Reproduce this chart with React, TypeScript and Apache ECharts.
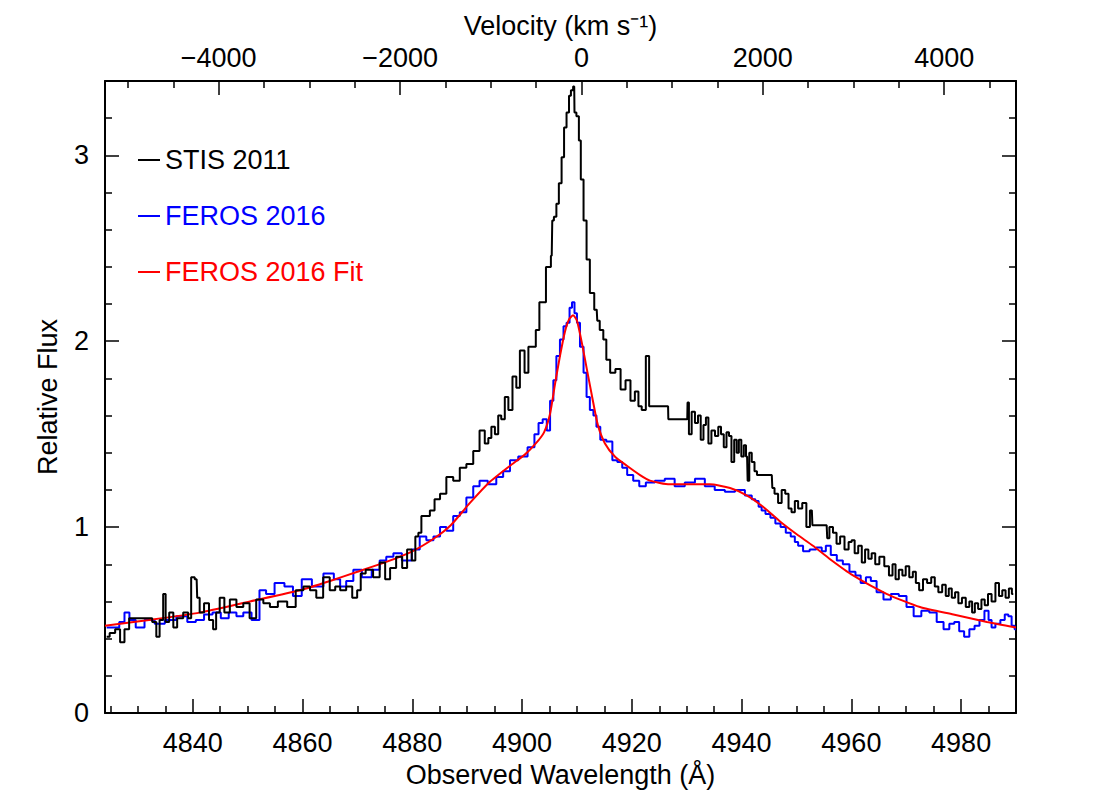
import React, { useEffect, useRef } from "react";
import * as echarts from "echarts";

// ---- axis ranges / ticks ----
const WAVE_MIN = 4824;
const WAVE_MAX = 4990;
const VEL_MIN = -5254;
const VEL_MAX = 4792;
const FLUX_MIN = 0;
const FLUX_MAX = 3.4;

const waveTicks = [4840, 4860, 4880, 4900, 4920, 4940, 4960, 4980];
const waveMinorTicks = [
  4825, 4830, 4835, 4845, 4850, 4855, 4865, 4870, 4875, 4885, 4890, 4895, 4905, 4910, 4915,
  4925, 4930, 4935, 4945, 4950, 4955, 4965, 4970, 4975, 4985,
];
const velTicks = [-4000, -2000, 0, 2000, 4000];
const velMinorTicks = [
  -5000, -4500, -3500, -3000, -2500, -1500, -1000, -500, 500, 1000, 1500, 2500, 3000, 3500, 4500,
];
const fluxTicks = [0, 1, 2, 3];
const fluxMinorTicks = [0.2, 0.4, 0.6, 0.8, 1.2, 1.4, 1.6, 1.8, 2.2, 2.4, 2.6, 2.8, 3.2];

// ---- STIS 2011 ----
const stisWave = [
  4824.3, 4825.4, 4826.3, 4827.2, 4827.9, 4828.9, 4832.1, 4833.1, 4833.6, 4834.3,
  4834.9, 4835.2, 4836.2, 4836.7, 4837.6, 4838.9, 4839.4, 4840.0, 4840.7, 4840.9,
  4841.6, 4842.5, 4843.4, 4844.0, 4844.5, 4845.3, 4846.2, 4847.3, 4848.6, 4849.8,
  4850.9, 4852.2, 4853.5, 4854.6, 4856.4, 4858.0, 4859.5, 4860.8, 4861.9, 4863.1,
  4864.4, 4865.5, 4866.4, 4867.3, 4868.6, 4869.5, 4870.4, 4870.8, 4872.2, 4873.5,
  4874.6, 4875.5, 4876.4, 4877.7, 4878.6, 4879.5, 4880.3, 4880.8, 4881.4, 4881.9,
  4882.8, 4883.6, 4884.5, 4885.6, 4886.8, 4888.1, 4889.2, 4890.5, 4891.7, 4892.8,
  4893.6, 4894.1, 4894.7, 4895.4, 4895.9, 4896.5, 4897.2, 4897.8, 4898.7, 4899.2,
  4900.0, 4900.9, 4901.4, 4902.3, 4902.7, 4903.6, 4905.1, 4905.4, 4905.6, 4906.0,
  4906.5, 4906.9, 4907.5, 4907.8, 4908.4, 4908.7, 4909.1, 4909.5, 4909.6, 4910.2,
  4910.5, 4910.9, 4911.5, 4912.0, 4912.7, 4913.6, 4913.8, 4914.5, 4915.1, 4915.6,
  4916.5, 4917.5, 4918.4, 4919.3, 4920.2, 4920.9, 4921.5, 4922.1, 4923.0, 4923.3,
  4926.6, 4926.7, 4930.1,
  4930.2, 4930.6, 4931.2, 4931.8, 4932.3, 4932.8, 4933.3, 4933.7, 4934.2, 4934.8,
  4935.5, 4936.0, 4936.5, 4937.0, 4937.5, 4937.9, 4938.4, 4938.9, 4939.3, 4939.7,
  4940.2, 4940.6, 4941.0, 4941.2, 4941.6, 4942.1, 4942.6, 4943.0, 4945.5, 4945.7,
  4946.3, 4947.0, 4947.6, 4948.3, 4948.8, 4949.4, 4950.0, 4950.6, 4951.5, 4952.1,
  4952.8, 4953.0, 4955.5, 4955.7, 4956.3, 4957.0, 4957.6, 4958.3, 4959.2, 4959.8,
  4960.3, 4960.9, 4961.6, 4962.2, 4962.8, 4963.4, 4964.0, 4964.7, 4965.5, 4966.5,
  4967.2, 4967.8, 4968.3, 4969.0, 4969.6, 4970.2, 4970.9, 4971.5, 4972.0, 4972.7,
  4973.4, 4974.2, 4974.9, 4975.5, 4976.2, 4976.9, 4977.5, 4978.0, 4978.6, 4979.2,
  4979.8, 4980.5, 4981.2, 4981.8, 4982.2, 4982.8, 4983.4, 4984.0, 4984.6, 4985.2,
  4985.9, 4986.6, 4987.2, 4987.8, 4988.4, 4989.0, 4989.5,
];
const stisFlux = [
  0.41, 0.43, 0.45, 0.38, 0.45, 0.51, 0.51, 0.49, 0.41, 0.5,
  0.64, 0.49, 0.54, 0.46, 0.51, 0.54, 0.51, 0.73, 0.72, 0.62,
  0.54, 0.59, 0.5, 0.45, 0.54, 0.62, 0.54, 0.61, 0.57, 0.59,
  0.51, 0.61, 0.59, 0.57, 0.6, 0.57, 0.66, 0.68, 0.66, 0.62,
  0.73, 0.66, 0.68, 0.66, 0.68, 0.62, 0.66, 0.75, 0.77, 0.73,
  0.81, 0.72, 0.78, 0.84, 0.78, 0.88, 0.82, 0.95, 0.97, 1.06,
  1.06, 1.09, 1.15, 1.18, 1.27, 1.25, 1.32, 1.34, 1.41, 1.52,
  1.45, 1.48, 1.54, 1.5, 1.6, 1.58, 1.7, 1.63, 1.81, 1.75,
  1.95, 1.83, 1.97, 1.97, 2.06, 2.21, 2.4, 2.46, 2.65, 2.67,
  2.74, 2.85, 2.99, 3.15, 3.23, 3.32, 3.35, 3.37, 3.23, 3.21,
  3.08, 2.87, 2.65, 2.44, 2.26, 2.17, 2.11, 2.06, 2.01, 1.9,
  1.83, 1.85, 1.74, 1.79, 1.68, 1.73, 1.65, 1.63, 1.92, 1.65,
  1.65, 1.58, 1.58,
  1.67, 1.5, 1.62, 1.56, 1.6, 1.47, 1.55, 1.59, 1.45, 1.52,
  1.49, 1.54, 1.5, 1.43, 1.51, 1.49, 1.35, 1.47, 1.4, 1.47,
  1.38, 1.44, 1.38, 1.25, 1.4, 1.35, 1.3, 1.28, 1.28, 1.21,
  1.18, 1.13, 1.2, 1.18, 1.1, 1.08, 1.14, 1.1, 1.13, 1.0,
  1.09, 1.01, 1.01, 0.94, 1.0, 0.97, 0.91, 0.95, 0.88, 0.92,
  0.93, 0.86, 0.9, 0.81, 0.88, 0.83, 0.86, 0.8, 0.84, 0.79,
  0.74, 0.8, 0.72, 0.77, 0.74, 0.79, 0.73, 0.76, 0.7, 0.66,
  0.72, 0.7, 0.73, 0.68, 0.65, 0.69, 0.63, 0.67, 0.62, 0.65,
  0.59, 0.62, 0.57, 0.6, 0.54, 0.59, 0.56, 0.61, 0.58, 0.64,
  0.6, 0.7, 0.63, 0.66, 0.62, 0.67, 0.64,
];

// ---- FEROS 2016 ----
const ferosWave = [
  4824.3, 4826.1, 4827.1, 4828.0, 4828.9, 4830.3, 4832.1, 4834.0, 4835.8, 4838.2,
  4839.8, 4841.3, 4842.8, 4844.4, 4845.8, 4847.3, 4848.6, 4849.8, 4851.6, 4852.7,
  4854.0, 4855.8, 4857.6, 4858.9, 4860.8, 4862.6, 4865.0, 4866.4, 4867.3, 4868.6,
  4869.9, 4871.7, 4873.5, 4874.6, 4875.9, 4877.2, 4879.0, 4880.8, 4881.9, 4883.2,
  4884.5, 4885.6, 4886.8, 4888.1, 4889.2, 4890.5, 4891.7, 4892.8, 4894.7, 4895.9,
  4897.2, 4898.4, 4900.2, 4901.8, 4902.7, 4903.3, 4904.2, 4904.8, 4905.4, 4906.0,
  4906.5, 4907.3, 4907.8, 4908.4, 4908.9, 4909.3, 4909.8, 4910.2, 4910.9, 4911.5,
  4912.0, 4912.7, 4913.3, 4913.8, 4914.7, 4916.0, 4916.9, 4917.8, 4918.7, 4919.6,
  4920.9, 4921.8, 4923.3, 4925.1, 4926.9, 4928.7, 4930.6, 4932.4, 4934.2, 4936.0,
  4937.9, 4939.7,
  4941.5, 4942.2, 4942.8, 4943.4, 4943.9, 4944.8, 4945.7, 4946.6, 4947.6, 4948.5,
  4949.4, 4950.0, 4950.6, 4951.8, 4953.0, 4954.2, 4955.0, 4955.7, 4956.8, 4957.9,
  4959.0, 4960.3, 4961.2, 4962.2, 4963.1, 4964.0, 4965.2, 4966.5, 4967.9, 4969.4,
  4970.7, 4972.0, 4973.5, 4974.9, 4976.2, 4977.4, 4978.3, 4979.2, 4980.1, 4981.0,
  4982.0, 4982.9, 4983.8, 4984.7, 4985.3, 4985.8, 4986.7, 4987.6, 4988.3, 4988.9,
  4989.5, 4990.0,
];
const ferosFlux = [
  0.46, 0.46, 0.49, 0.54, 0.5, 0.46, 0.5, 0.48, 0.5, 0.52,
  0.49, 0.5, 0.53, 0.54, 0.51, 0.54, 0.52, 0.54, 0.5, 0.66,
  0.64, 0.7, 0.68, 0.63, 0.72, 0.68, 0.75, 0.72, 0.68, 0.71,
  0.77, 0.73, 0.77, 0.82, 0.84, 0.86, 0.82, 0.88, 0.95, 0.93,
  0.95, 1.0, 0.98, 1.06, 1.08, 1.16, 1.22, 1.25, 1.23, 1.27,
  1.3, 1.36, 1.38, 1.43, 1.5, 1.56, 1.58, 1.52, 1.68, 1.79,
  1.92, 2.01, 2.08, 2.1, 2.18, 2.21, 2.15, 2.1, 1.97, 1.83,
  1.7, 1.63, 1.6, 1.54, 1.47, 1.46, 1.36, 1.35, 1.32, 1.28,
  1.25, 1.22, 1.24, 1.25, 1.26, 1.22, 1.24, 1.26, 1.22, 1.2,
  1.19, 1.2,
  1.17, 1.15, 1.14, 1.11, 1.09, 1.07, 1.05, 1.02, 1.0, 0.97,
  0.95, 0.92, 0.9, 0.87, 0.88, 0.89, 0.87, 0.9, 0.85, 0.82,
  0.8, 0.76, 0.74, 0.7, 0.73, 0.71, 0.65, 0.61, 0.64, 0.63,
  0.57, 0.52, 0.55, 0.54, 0.49, 0.45, 0.48, 0.49, 0.44, 0.41,
  0.45, 0.47, 0.5, 0.55, 0.5, 0.46, 0.48, 0.5, 0.53, 0.52,
  0.47, 0.45,
];

// ---- FEROS 2016 Fit ----
const fitWave = [
  4824, 4832, 4841.3, 4850.4, 4859.5, 4865, 4870, 4875, 4880, 4884,
  4887, 4890.5, 4894, 4897.8, 4900.5, 4902.5, 4904, 4905.1, 4906, 4906.9,
  4907.8, 4908.6, 4909.3, 4910, 4910.9, 4911.8, 4912.9, 4913.8, 4915.1, 4916.9,
  4919.1, 4921.5, 4923.3, 4926.9, 4930.6, 4934.2, 4937.9, 4941, 4943.9, 4947,
  4950.1, 4953, 4956, 4960.3, 4966.5, 4972.5, 4978.6, 4984.7, 4990,
];
const fitFlux = [
  0.47, 0.5, 0.54, 0.6, 0.66, 0.71, 0.76, 0.81, 0.87, 0.94,
  1.01, 1.13, 1.24, 1.33, 1.39, 1.45, 1.51, 1.61, 1.77, 1.92,
  2.05, 2.12, 2.14, 2.11, 1.99, 1.85, 1.68, 1.55, 1.45, 1.38,
  1.33, 1.28, 1.25, 1.23, 1.23, 1.23, 1.21, 1.17, 1.11, 1.03,
  0.96, 0.9, 0.83, 0.74, 0.64, 0.57, 0.53, 0.49, 0.46,
];

const seriesNames = ["STIS 2011", "FEROS 2016", "FEROS 2016 Fit"];
const seriesColors = ["#000000", "#0000ff", "#ff0000"];

const FONT = "Liberation Sans";
const zip = (xs: number[], ys: number[]) => xs.map((x, i) => [x, ys[i]]);
const fmtVel = (v: number) => (v < 0 ? "\u2212" + Math.abs(v) : String(v));
const fmtPlain = (v: number) => String(v);

export default function App() {
  const ref = useRef<HTMLDivElement>(null);
  useEffect(() => {
    if (!ref.current) return;
    const chart = echarts.init(ref.current, null, { renderer: "svg" });
    const frame = { show: true, onZero: false, lineStyle: { color: "#000", width: 2 } };
    const noLine = { show: false, onZero: false };
    const major = (vals: number[]) => ({
      show: true,
      inside: true,
      length: 14,
      customValues: vals,
      lineStyle: { color: "#000", width: 1.5 },
    });
    const minor = (vals: number[]) => ({
      show: true,
      inside: true,
      length: 7,
      customValues: vals,
      lineStyle: { color: "#000", width: 1.5 },
    });
    const labelStyle = { fontFamily: FONT, fontSize: 27, color: "#000" };
    const nameStyle = { fontFamily: FONT, fontSize: 27, color: "#000" };
    const noSplit = { show: false };

    chart.setOption({
      animation: false,
      backgroundColor: "#ffffff",
      grid: { left: 105, right: 84, top: 81, bottom: 86, containLabel: false },
      legend: {
        orient: "vertical",
        left: 133,
        top: 141,
        itemWidth: 22,
        itemHeight: 2,
        itemGap: 28,
        icon: "rect",
        selectedMode: false,
        textStyle: { fontFamily: FONT, fontSize: 27, lineHeight: 28 },
        data: seriesNames.map((n, i) => ({ name: n, textStyle: { color: seriesColors[i] } })),
      },
      xAxis: [
        {
          type: "value",
          position: "bottom",
          min: WAVE_MIN,
          max: WAVE_MAX,
          axisLine: frame,
          axisTick: major(waveTicks),
          axisLabel: { ...labelStyle, customValues: waveTicks, margin: 16, formatter: fmtPlain },
          splitLine: noSplit,
          name: "Observed Wavelength (Å)",
          nameLocation: "middle",
          nameGap: 48,
          nameTextStyle: nameStyle,
        },
        {
          type: "value",
          position: "bottom",
          min: WAVE_MIN,
          max: WAVE_MAX,
          axisLine: noLine,
          axisTick: minor(waveMinorTicks),
          axisLabel: { show: false },
          splitLine: noSplit,
        },
        {
          type: "value",
          position: "top",
          min: VEL_MIN,
          max: VEL_MAX,
          axisLine: frame,
          axisTick: major(velTicks),
          axisLabel: { ...labelStyle, customValues: velTicks, margin: 10, formatter: fmtVel },
          splitLine: noSplit,
          name: "Velocity (km s\u207B\u00B9)",
          nameLocation: "middle",
          nameGap: 39,
          nameTextStyle: nameStyle,
        },
        {
          type: "value",
          position: "top",
          min: VEL_MIN,
          max: VEL_MAX,
          axisLine: noLine,
          axisTick: minor(velMinorTicks),
          axisLabel: { show: false },
          splitLine: noSplit,
        },
      ],
      yAxis: [
        {
          type: "value",
          position: "left",
          min: FLUX_MIN,
          max: FLUX_MAX,
          axisLine: frame,
          axisTick: major(fluxTicks),
          axisLabel: { ...labelStyle, customValues: fluxTicks, margin: 16 },
          splitLine: noSplit,
          name: "Relative Flux",
          nameLocation: "middle",
          nameGap: 44,
          nameTextStyle: nameStyle,
        },
        {
          type: "value",
          position: "left",
          min: FLUX_MIN,
          max: FLUX_MAX,
          axisLine: noLine,
          axisTick: minor(fluxMinorTicks),
          axisLabel: { show: false },
          splitLine: noSplit,
        },
        {
          type: "value",
          position: "right",
          min: FLUX_MIN,
          max: FLUX_MAX,
          axisLine: frame,
          axisTick: major(fluxTicks),
          axisLabel: { show: false },
          splitLine: noSplit,
        },
        {
          type: "value",
          position: "right",
          min: FLUX_MIN,
          max: FLUX_MAX,
          axisLine: noLine,
          axisTick: minor(fluxMinorTicks),
          axisLabel: { show: false },
          splitLine: noSplit,
        },
      ],
      series: [
        {
          name: seriesNames[1],
          type: "line",
          step: "middle",
          xAxisIndex: 0,
          yAxisIndex: 0,
          showSymbol: false,
          symbol: "none",
          color: seriesColors[1],
          lineStyle: { color: seriesColors[1], width: 2 },
          data: zip(ferosWave, ferosFlux),
          z: 2,
        },
        {
          name: seriesNames[2],
          type: "line",
          smooth: 0.2,
          xAxisIndex: 0,
          yAxisIndex: 0,
          showSymbol: false,
          symbol: "none",
          color: seriesColors[2],
          lineStyle: { color: seriesColors[2], width: 2 },
          data: zip(fitWave, fitFlux),
          z: 3,
        },
        {
          name: seriesNames[0],
          type: "line",
          step: "middle",
          xAxisIndex: 0,
          yAxisIndex: 0,
          showSymbol: false,
          symbol: "none",
          color: seriesColors[0],
          lineStyle: { color: seriesColors[0], width: 2 },
          data: zip(stisWave, stisFlux),
          z: 4,
        },
      ],
    });
    return () => chart.dispose();
  }, []);
  return (
    <div
      ref={ref}
      style={{ position: "absolute", left: 0, top: 0, width: 1100, height: 799, background: "#fff" }}
    />
  );
}
